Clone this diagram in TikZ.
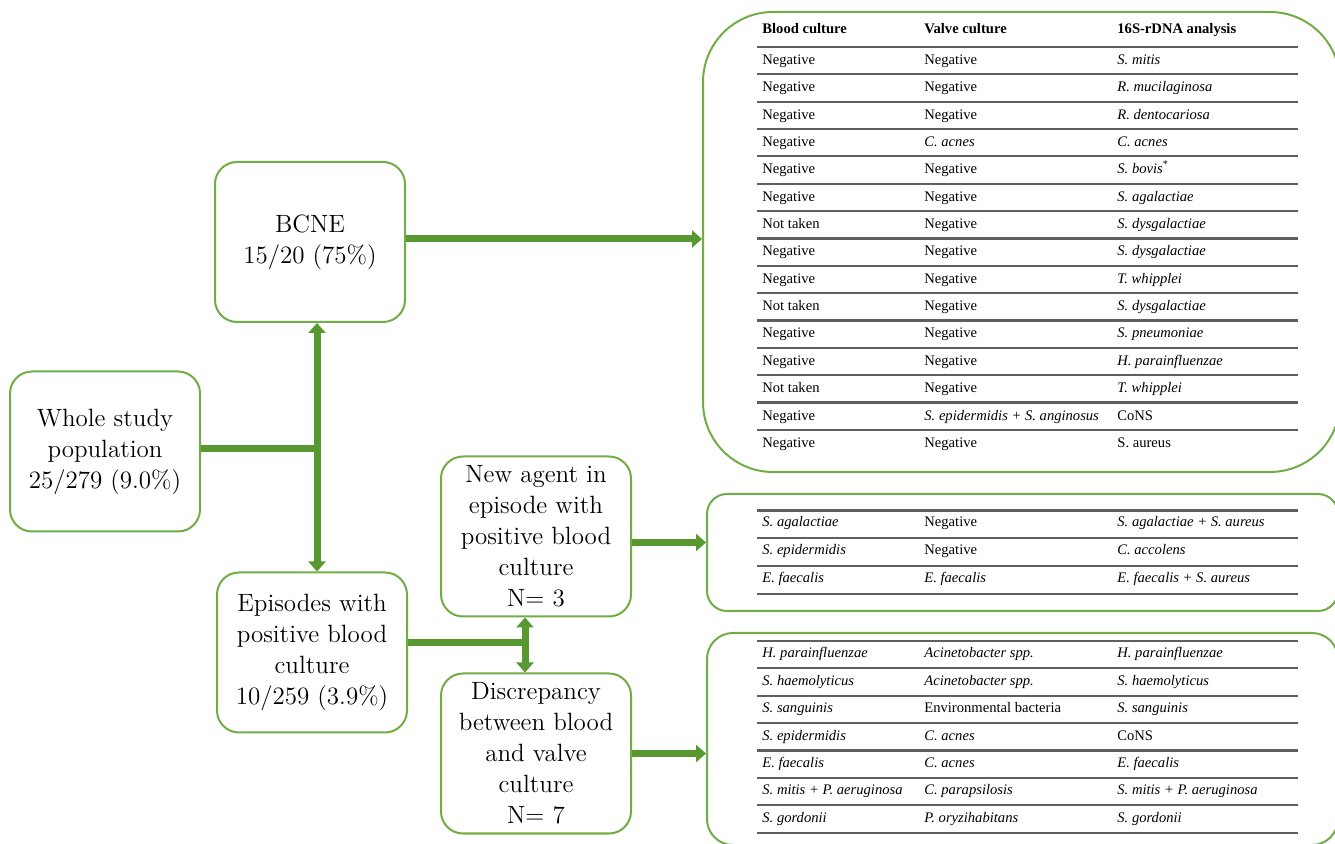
\documentclass[tikz,border=0pt]{standalone}
\usepackage{fontspec}
\newfontfamily\tabfont{Liberation Serif}
\usetikzlibrary{arrows.meta}
\definecolor{boxgreen}{RGB}{112,173,71}
\definecolor{arrowgreen}{RGB}{88,152,48}
\definecolor{rulegray}{RGB}{95,95,95}

\begin{document}
\begin{tikzpicture}[x=0.5pt, y=-0.5pt,
        box/.style={draw=boxgreen, line width=1pt, rounded corners=11pt, minimum width=95pt,
            minimum height=80pt, align=center, inner sep=2pt, font=\fontsize{12.5}{15.5}\selectfont},
        tablebox/.style={draw=boxgreen, line width=1pt},
        link/.style={draw=arrowgreen, line width=3.5pt},
        flow/.style={link, -{Triangle[length=5pt,width=8.5pt]}},
        flowboth/.style={link, {Triangle[length=5pt,width=8.5pt]}-{Triangle[length=5pt,width=8.5pt]}},
        cell/.style={anchor=base west, inner sep=0pt, font=\tabfont\fontsize{7.3}{8.5}\selectfont},
        headcell/.style={cell, font=\tabfont\bfseries\fontsize{7.3}{8.5}\selectfont},
        tabrule/.style={draw=rulegray, line width=1.1pt}]
    \useasboundingbox (0,0) rectangle (1335,844);

    % flow boxes
    \node[box] (whole)    at (105, 451.5) {Whole study\\population\\25/279 (9.0\%)};
    \node[box] (bcne)     at (310, 242)   {BCNE\\15/20 (75\%)};
    \node[box] (episodes) at (312, 652.5) {Episodes with\\positive blood\\culture\\10/259 (3.9\%)};
    \node[box] (newagent) at (536, 536.5) {New agent in\\episode with\\positive blood\\culture\\N= 3};
    \node[box] (discr)    at (536, 753.5) {Discrepancy\\between blood\\and valve\\culture\\N= 7};

    % table frames
    \node[tablebox, rounded corners=35pt, minimum width=318.5pt, minimum height=230pt] (bigtab) at (1021.5, 242) {};
    \node[tablebox, rounded corners=10pt, minimum width=315.5pt, minimum height=58.5pt] (midtab) at (1022.5, 552.5) {};
    \node[tablebox, rounded corners=13pt, minimum width=315.5pt, minimum height=106pt] (lowtab) at (1022.5, 739) {};

    % connectors
    \coordinate (j1) at (317, 449);
    \coordinate (j2) at (525, 643);
    \draw[link] (whole.east |- j1) -- (j1);
    \draw[flowboth] (bcne.south -| j1) -- (episodes.north -| j1);
    \draw[link] (episodes.east |- j2) -- (j2);
    \draw[flowboth] (newagent.south -| j2) -- (discr.north -| j2);
    \draw[flow] ([yshift=1.5pt]bcne.east) -- ([yshift=1.5pt]bcne.east -| bigtab.west);
    \draw[flow] ([yshift=-3pt]newagent.east) -- ([yshift=-3pt]newagent.east -| midtab.west);
    \draw[flow] (discr.east) -- (discr.east -| lowtab.west);

    % BCNE table
    \node[headcell] (big-h-1) at (762, 34) {Blood culture};
    \node[headcell] (big-h-2) at (924, 34) {Valve culture};
    \node[headcell] (big-h-3) at (1117, 34) {16S-rDNA analysis};
    \foreach \k in {0,...,14}
        \draw[tabrule] (757, {47+\k*27.35}) -- (1298, {47+\k*27.35});
    \foreach \a/\b/\c [count=\i] in {
            Negative/Negative/\textit{S. mitis},
            Negative/Negative/\textit{R. mucilaginosa},
            Negative/Negative/\textit{R. dentocariosa},
            Negative/\textit{C. acnes}/\textit{C. acnes},
            Negative/Negative/\textit{S. bovis}\textsuperscript{*},
            Negative/Negative/\textit{S. agalactiae},
            Not taken/Negative/\textit{S. dysgalactiae},
            Negative/Negative/\textit{S. dysgalactiae},
            Negative/Negative/\textit{T. whipplei},
            Not taken/Negative/\textit{S. dysgalactiae},
            Negative/Negative/\textit{S. pneumoniae},
            Negative/Negative/\textit{H. parainfluenzae},
            Not taken/Negative/\textit{T. whipplei},
            Negative/\textit{S. epidermidis + S. anginosus}/CoNS,
            Negative/Negative/S. aureus} {
        \node[cell] (big-\i-1) at (762, {64.5+(\i-1)*27.35}) {\a};
        \node[cell] (big-\i-2) at (924, {64.5+(\i-1)*27.35}) {\b};
        \node[cell] (big-\i-3) at (1117, {64.5+(\i-1)*27.35}) {\c};
    }

    % new agent table
    \foreach \k in {0,...,3}
        \draw[tabrule] (757, {510.5+\k*27.8}) -- (1298, {510.5+\k*27.8});
    \foreach \a/\b/\c [count=\i] in {
            \textit{S. agalactiae}/Negative/\textit{S. agalactiae + S. aureus},
            \textit{S. epidermidis}/Negative/\textit{C. accolens},
            \textit{E. faecalis}/\textit{E. faecalis}/\textit{E. faecalis + S. aureus}} {
        \node[cell] (mid-\i-1) at (762, {527+(\i-1)*27.8}) {\a};
        \node[cell] (mid-\i-2) at (924, {527+(\i-1)*27.8}) {\b};
        \node[cell] (mid-\i-3) at (1117, {527+(\i-1)*27.8}) {\c};
    }

    % discrepancy table
    \foreach \k in {0,...,7}
        \draw[tabrule] (757, {641+\k*27.4}) -- (1298, {641+\k*27.4});
    \foreach \a/\b/\c [count=\i] in {
            \textit{H. parainfluenzae}/\textit{Acinetobacter spp.}/\textit{H. parainfluenzae},
            \textit{S. haemolyticus}/\textit{Acinetobacter spp.}/\textit{S. haemolyticus},
            \textit{S. sanguinis}/Environmental bacteria/\textit{S. sanguinis},
            \textit{S. epidermidis}/\textit{C. acnes}/CoNS,
            \textit{E. faecalis}/\textit{C. acnes}/\textit{E. faecalis},
            \textit{S. mitis + P. aeruginosa}/\textit{C. parapsilosis}/\textit{S. mitis + P. aeruginosa},
            \textit{S. gordonii}/\textit{P. oryzihabitans}/\textit{S. gordonii}} {
        \node[cell] (low-\i-1) at (762, {658+(\i-1)*27.4}) {\a};
        \node[cell] (low-\i-2) at (924, {658+(\i-1)*27.4}) {\b};
        \node[cell] (low-\i-3) at (1117, {658+(\i-1)*27.4}) {\c};
    }
\end{tikzpicture}
\end{document}
